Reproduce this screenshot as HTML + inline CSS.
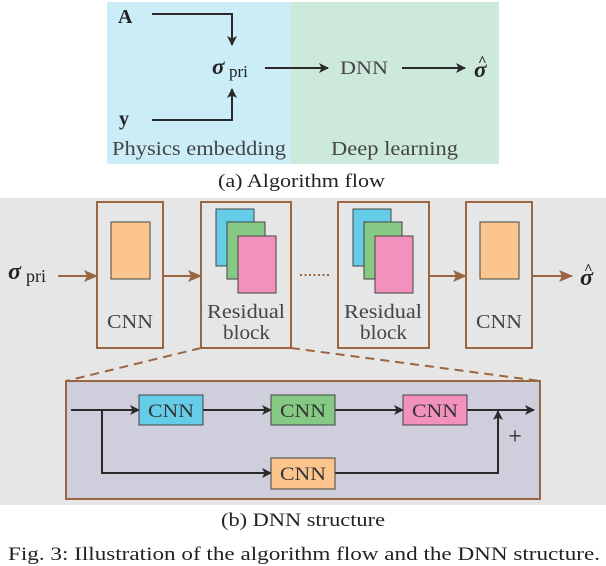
<!DOCTYPE html>
<html><head><style>body{margin:0;background:#fff}svg{display:block;font-family:"Liberation Serif",serif}</style></head><body>
<svg width="606" height="566" viewBox="0 0 606 566" style="font-family:'Liberation Serif',serif">
<defs>
<marker id="ak" markerWidth="10" markerHeight="10" refX="9" refY="5" orient="auto" markerUnits="userSpaceOnUse"><path d="M0,0 L10,5 L0,10 L2.5,5 Z" fill="#2a2a2a"/></marker>
<marker id="ab" markerWidth="14" markerHeight="12" refX="13" refY="6" orient="auto" markerUnits="userSpaceOnUse"><path d="M0,0 L14,6 L0,12 L3,6 Z" fill="#9a6642"/></marker>
</defs>
<rect x="107" y="2" width="184" height="162" fill="#cbedf8"/>
<rect x="291" y="2" width="208" height="162" fill="#cde9dc"/>
<text x="118" y="23" font-size="20" font-weight="bold" fill="#222">A</text>
<text x="119" y="125" font-size="20" font-weight="bold" fill="#222">y</text>
<polyline points="152,14 232,14 232,45" fill="none" stroke="#2a2a2a" stroke-width="2" marker-end="url(#ak)"/>
<polyline points="152,120 232,120 232,89" fill="none" stroke="#2a2a2a" stroke-width="2" marker-end="url(#ak)"/>
<text x="212" y="74" font-size="23" font-weight="bold" font-style="italic" fill="#222">σ</text>
<text x="229" y="77" font-size="17" fill="#222">pri</text>
<line x1="265" y1="68" x2="328" y2="68" stroke="#2a2a2a" stroke-width="2" marker-end="url(#ak)"/>
<text x="340" y="74" font-size="19" fill="#444" textLength="48" lengthAdjust="spacingAndGlyphs">DNN</text>
<line x1="402" y1="68" x2="465" y2="68" stroke="#2a2a2a" stroke-width="2" marker-end="url(#ak)"/>
<text x="474" y="77" font-size="23" font-weight="bold" font-style="italic" fill="#222">σ</text>
<text x="478" y="66" font-size="15" font-weight="bold" fill="#222">^</text>
<text x="112" y="155" font-size="20" fill="#444" textLength="174" lengthAdjust="spacingAndGlyphs">Physics embedding</text>
<text x="331" y="155" font-size="20" fill="#444" textLength="127" lengthAdjust="spacingAndGlyphs">Deep learning</text>
<text x="218" y="187" font-size="19" fill="#222" textLength="167" lengthAdjust="spacingAndGlyphs">(a) Algorithm flow</text>
<rect x="0" y="198" width="606" height="307" fill="#e6e6e6"/>
<g fill="none" stroke="#9a6642" stroke-width="2">
<rect x="97" y="202" width="66" height="146"/>
<rect x="201" y="202" width="90" height="146"/>
<rect x="338" y="202" width="91" height="146"/>
<rect x="466" y="202" width="66" height="146"/>
<line x1="201" y1="348" x2="66" y2="381" stroke-dasharray="9,6"/>
<line x1="291" y1="348" x2="540" y2="381" stroke-dasharray="9,6"/>
</g>
<g stroke="#444" stroke-width="1">
<rect x="111" y="222" width="39" height="57" fill="#fbc58d"/>
<rect x="216" y="209" width="38" height="57" fill="#66cde8"/>
<rect x="227" y="222" width="38" height="57" fill="#86c984"/>
<rect x="238" y="236" width="38" height="57" fill="#f291bb"/>
<rect x="353" y="209" width="38" height="57" fill="#66cde8"/>
<rect x="364" y="222" width="38" height="57" fill="#86c984"/>
<rect x="375" y="236" width="38" height="57" fill="#f291bb"/>
<rect x="480" y="222" width="39" height="57" fill="#fbc58d"/>
</g>
<g stroke="#9a6642" stroke-width="2">
<line x1="58" y1="276" x2="97" y2="276" marker-end="url(#ab)"/>
<line x1="163" y1="276" x2="201" y2="276" marker-end="url(#ab)"/>
<line x1="429" y1="276" x2="466" y2="276" marker-end="url(#ab)"/>
<line x1="532" y1="276" x2="572" y2="276" marker-end="url(#ab)"/>
<line x1="300" y1="275" x2="330" y2="275" stroke-dasharray="2,2.5"/>
</g>
<text x="8" y="279" font-size="24" font-weight="bold" font-style="italic" fill="#222">σ</text>
<text x="26" y="282" font-size="18" fill="#222">pri</text>
<text x="580" y="285" font-size="24" font-weight="bold" font-style="italic" fill="#222">σ</text>
<text x="584" y="274" font-size="15" font-weight="bold" fill="#222">^</text>
<g font-size="20" fill="#444">
<text x="107" y="328" textLength="46" lengthAdjust="spacingAndGlyphs">CNN</text>
<text x="207" y="318" textLength="78" lengthAdjust="spacingAndGlyphs">Residual</text>
<text x="223" y="339" textLength="47" lengthAdjust="spacingAndGlyphs">block</text>
<text x="344" y="318" textLength="78" lengthAdjust="spacingAndGlyphs">Residual</text>
<text x="360" y="339" textLength="47" lengthAdjust="spacingAndGlyphs">block</text>
<text x="476" y="328" textLength="46" lengthAdjust="spacingAndGlyphs">CNN</text>
</g>
<rect x="66" y="381" width="474" height="118" fill="#cfcedc" stroke="#9a6642" stroke-width="2"/>
<g stroke="#2a2a2a" stroke-width="2" fill="none">
<line x1="71" y1="410" x2="139" y2="410" marker-end="url(#ak)"/>
<line x1="203" y1="410" x2="271" y2="410" marker-end="url(#ak)"/>
<line x1="335" y1="410" x2="403" y2="410" marker-end="url(#ak)"/>
<line x1="467" y1="410" x2="534" y2="410" marker-end="url(#ak)"/>
<polyline points="102,410 102,473 271,473" marker-end="url(#ak)"/>
<polyline points="335,473 498,473 498,411" marker-end="url(#ak)"/>
</g>
<g stroke="#444" stroke-width="1">
<rect x="139" y="395" width="64" height="30" fill="#66cde8"/>
<rect x="271" y="395" width="64" height="30" fill="#86c984"/>
<rect x="403" y="395" width="64" height="30" fill="#f291bb"/>
<rect x="271" y="458" width="64" height="31" fill="#fbc58d"/>
</g>
<g font-size="19" fill="#333">
<text x="148" y="417" textLength="46" lengthAdjust="spacingAndGlyphs">CNN</text>
<text x="280" y="417" textLength="46" lengthAdjust="spacingAndGlyphs">CNN</text>
<text x="412" y="417" textLength="46" lengthAdjust="spacingAndGlyphs">CNN</text>
<text x="280" y="480" textLength="46" lengthAdjust="spacingAndGlyphs">CNN</text>
</g>
<text x="515" y="444" font-size="24" fill="#222" text-anchor="middle">+</text>
<text x="221" y="526" font-size="19" fill="#222" textLength="164" lengthAdjust="spacingAndGlyphs">(b) DNN structure</text>
<text x="8" y="560" font-size="19" fill="#222" textLength="592" lengthAdjust="spacingAndGlyphs">Fig. 3: Illustration of the algorithm flow and the DNN structure.</text>
</svg>
</body></html>
